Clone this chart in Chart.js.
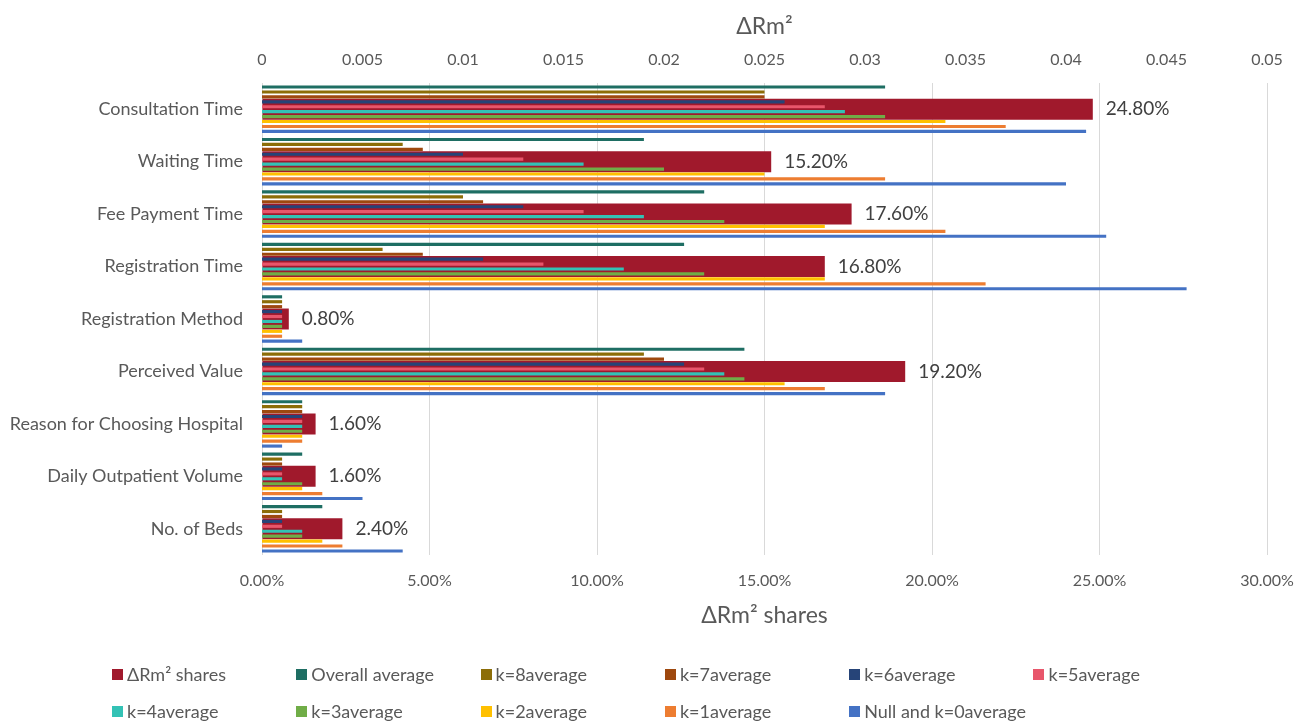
<!DOCTYPE html>
<html>
<head>
<meta charset="utf-8">
<script src="https://cdn.jsdelivr.net/npm/chart.js@4.4.1/dist/chart.umd.min.js"></script>
<style>
    html, body { margin: 0; padding: 0; background: #fff; }
    #wrap { position: relative; width: 1299px; height: 721px; }
    #legend {
        position: absolute; left: 112px; top: 656px;
        display: grid; grid-template-columns: repeat(6, 184.3px); grid-auto-rows: 36.7px;
        align-items: center;
        font-family: Lato, sans-serif; font-size: 18px; color: #595959;
    }
    #legend .item { display: flex; align-items: center; white-space: nowrap; }
    #legend .box { width: 11px; height: 11px; margin-right: 4px; flex: none; }
</style>
</head>
<body>
<div id="wrap">
    <canvas id="chart" width="1299" height="721"></canvas>
    <div id="legend"></div>
</div>
<script>
// categorías y valores
const categories = ['Consultation Time', 'Waiting Time', 'Fee Payment Time', 'Registration Time', 'Registration Method',
    'Perceived Value', 'Reason for Choosing Hospital', 'Daily Outpatient Volume', 'No. of Beds'];

const shares = [24.8, 15.2, 17.6, 16.8, 0.8, 19.2, 1.6, 1.6, 2.4];   // ΔRm² shares (%)

const overallAvg = [0.031, 0.019, 0.022, 0.021, 0.001, 0.024, 0.002, 0.002, 0.003];
const k8avg = [0.025, 0.007, 0.010, 0.006, 0.001, 0.019, 0.002, 0.001, 0.001];
const k7avg = [0.025, 0.008, 0.011, 0.008, 0.001, 0.020, 0.002, 0.001, 0.001];
const k6avg = [0.026, 0.010, 0.013, 0.011, 0.001, 0.021, 0.002, 0.001, 0.001];
const k5avg = [0.028, 0.013, 0.016, 0.014, 0.001, 0.022, 0.002, 0.001, 0.001];
const k4avg = [0.029, 0.016, 0.019, 0.018, 0.001, 0.023, 0.002, 0.001, 0.002];
const k3avg = [0.031, 0.020, 0.023, 0.022, 0.001, 0.024, 0.002, 0.002, 0.002];
const k2avg = [0.034, 0.025, 0.028, 0.028, 0.001, 0.026, 0.002, 0.002, 0.003];
const k1avg = [0.037, 0.031, 0.034, 0.036, 0.001, 0.028, 0.002, 0.003, 0.004];
const k0avg = [0.041, 0.040, 0.042, 0.046, 0.002, 0.031, 0.001, 0.005, 0.007];

const topTicks = ['0', '0.005', '0.01', '0.015', '0.02', '0.025', '0.03', '0.035', '0.04', '0.045', '0.05'];
const bottomTicks = ['0.00%', '5.00%', '10.00%', '15.00%', '20.00%', '25.00%', '30.00%'];

const textColor = '#595959';
const font = 'Lato, sans-serif';

// serie fina sobre el eje superior
function thin(label, data, color) {
    return {
        label: label, data: data, backgroundColor: color,
        xAxisID: 'x2', order: 0,
        categoryPercentage: 0.94, barPercentage: 0.64
    };
}

// etiquetas de porcentaje al final de las barras rojas
const shareLabels = {
    id: 'shareLabels',
    afterDatasetsDraw(chart) {
        const ctx = chart.ctx;
        const meta = chart.getDatasetMeta(0);
        ctx.save();
        ctx.font = '19px ' + font;
        ctx.fillStyle = '#404040';
        ctx.textBaseline = 'middle';
        meta.data.forEach((bar, i) => {
            ctx.fillText(shares[i].toFixed(2) + '%', bar.x + 13, bar.y);
        });
        ctx.restore();
    }
};

// leyenda en HTML, en columnas como el original
const htmlLegend = {
    id: 'htmlLegend',
    afterUpdate(chart) {
        const box = document.getElementById('legend');
        box.innerHTML = '';
        chart.data.datasets.forEach(ds => {
            const item = document.createElement('div');
            item.className = 'item';
            const sw = document.createElement('span');
            sw.className = 'box';
            sw.style.background = ds.backgroundColor;
            const txt = document.createElement('span');
            txt.textContent = ds.label;
            item.appendChild(sw);
            item.appendChild(txt);
            box.appendChild(item);
        });
    }
};

// el área del gráfico no debe encogerse por las etiquetas de los extremos
function fitX(height) {
    return s => {
        s.height = height;
        s.paddingLeft = 0;
        s.paddingRight = 0;
    };
}

new Chart(document.getElementById('chart'), {
    type: 'bar',
    data: {
        labels: categories,
        datasets: [
            {
                label: 'ΔRm² shares', data: shares, backgroundColor: '#A0192C',
                xAxisID: 'x', order: 1, grouped: false,
                categoryPercentage: 0.4, barPercentage: 1
            },
            thin('Overall average', overallAvg, '#1E6E63'),
            thin('k=8average', k8avg, '#8C6D08'),
            thin('k=7average', k7avg, '#9E480E'),
            thin('k=6average', k6avg, '#264478'),
            thin('k=5average', k5avg, '#E8566B'),
            thin('k=4average', k4avg, '#33C2B5'),
            thin('k=3average', k3avg, '#70AD47'),
            thin('k=2average', k2avg, '#FFC000'),
            thin('k=1average', k1avg, '#ED7D31'),
            thin('Null and k=0average', k0avg, '#4472C4')
        ]
    },
    options: {
        indexAxis: 'y',
        responsive: false,
        animation: false,
        layout: { padding: { top: 0, right: 32, bottom: 86, left: 0 } },
        plugins: {
            legend: { display: false },
            tooltip: { enabled: false }
        },
        scales: {
            x: {
                position: 'bottom', min: 0, max: 30,
                ticks: {
                    stepSize: 5, padding: 16, color: textColor, font: { family: font, size: 16 },
                    callback: (v, i) => bottomTicks[i]
                },
                grid: { color: '#D9D9D9', drawTicks: false },
                border: { display: false },
                title: {
                    display: true, text: 'ΔRm² shares', color: textColor,
                    font: { family: font, size: 23 }, padding: { top: 0, bottom: 6 }
                },
                afterFit: fitX(80)
            },
            x2: {
                position: 'top', min: 0, max: 0.05,
                ticks: {
                    stepSize: 0.005, padding: 14, color: textColor, font: { family: font, size: 16 },
                    callback: (v, i) => topTicks[i]
                },
                grid: { display: false, drawTicks: false },
                border: { display: false },
                title: {
                    display: true, text: 'ΔRm²', color: textColor,
                    font: { family: font, size: 23 }, padding: { top: 13, bottom: 0 }
                },
                afterFit: fitX(83)
            },
            y: {
                ticks: { padding: 19, color: textColor, font: { family: font, size: 18 } },
                grid: { display: false, drawTicks: false },
                border: { display: false },
                afterFit: s => { s.width = 262; }
            }
        }
    },
    plugins: [shareLabels, htmlLegend]
});
</script>
</body>
</html>
